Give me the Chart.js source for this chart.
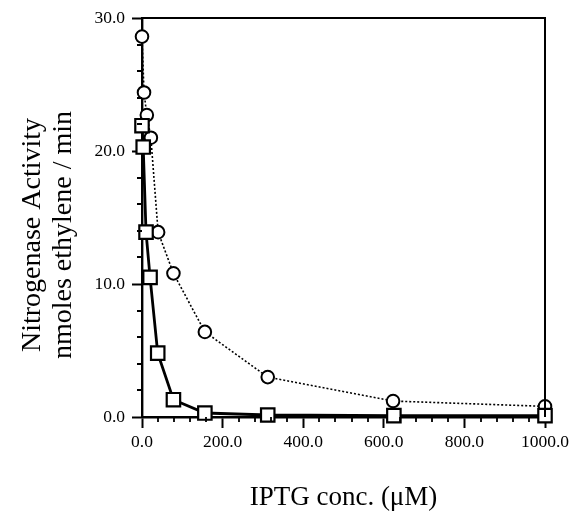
<!DOCTYPE html>
<html>
<head>
<meta charset="utf-8">
<script src="https://cdn.jsdelivr.net/npm/chart.js@4"></script>
<style>
html,body{margin:0;padding:0;background:#fff;}
#wrap{width:570px;height:511px;}
</style>
</head>
<body>
<div id="wrap"><canvas id="c" width="570" height="511"></canvas></div>
<script>
const circleX = [0, 5, 12, 22, 40, 78, 156, 312, 623, 1000];
const circleY = [28.6, 24.4, 22.7, 21.0, 13.9, 10.8, 6.4, 3.0, 1.2, 0.8];
const squareX = [0, 3, 10, 20, 39, 78, 156, 312, 625, 1000];
const squareY = [21.9, 20.3, 13.9, 10.5, 4.8, 1.3, 0.3, 0.15, 0.1, 0.1];
const xTitle = "IPTG conc. (\u03BCM)";
const yTitle = ["Nitrogenase Activity", "nmoles ethylene / min"];

const pts = (xs, ys) => xs.map((x, i) => ({x: x, y: ys[i]}));
// trailing no-break spaces shift the rotated title slightly downward, as in the reference
const pad = s => s + '\u00A0\u00A0\u00A0\u00A0\u00A0';

const frameAndMinor = {
  id: 'frameAndMinor',
  afterDraw(chart) {
    const ctx = chart.ctx, a = chart.chartArea;
    const xs = chart.scales.x, ys = chart.scales.y;
    ctx.save();
    ctx.strokeStyle = '#000';
    ctx.lineWidth = 2;
    ctx.beginPath();
    ctx.moveTo(a.left, a.top); ctx.lineTo(a.right, a.top); ctx.lineTo(a.right, a.bottom);
    ctx.stroke();
    ctx.lineWidth = 1.8;
    ctx.beginPath();
    for (let v = 0; v <= 30; v += 2) {
      if (v % 10 === 0) continue;
      const py = Math.round(ys.getPixelForValue(v));
      ctx.moveTo(a.left, py); ctx.lineTo(a.left - 5, py);
    }
    for (let v = 0; v <= 1000; v += 40) {
      if (v % 200 === 0) continue;
      const px = Math.round(xs.getPixelForValue(v));
      ctx.moveTo(px, a.bottom); ctx.lineTo(px, a.bottom + 5);
    }
    ctx.stroke();
    ctx.restore();
  }
};

new Chart(document.getElementById('c'), {
  type: 'line',
  data: {
    datasets: [
      {
        data: pts(squareX, squareY),
        borderColor: '#000', borderWidth: 2.8,
        pointStyle: 'rect', pointRadius: 9.5, pointBorderWidth: 2.2,
        pointBackgroundColor: '#fff', pointBorderColor: '#000',
        tension: 0, clip: false
      },
      {
        data: pts(circleX, circleY),
        borderColor: '#000', borderWidth: 1.6, borderDash: [2, 2],
        pointStyle: 'circle', pointRadius: 6.3, pointBorderWidth: 2,
        pointBackgroundColor: '#fff', pointBorderColor: '#000',
        tension: 0, clip: false
      }
    ]
  },
  options: {
    responsive: false,
    animation: false,
    layout: {padding: {top: 18, right: 25, bottom: 0, left: 0}},
    plugins: {legend: {display: false}, tooltip: {enabled: false}},
    scales: {
      x: {
        type: 'linear', min: 0, max: 1000,
        afterFit(s) { s.height = 94; s.paddingLeft = 0; s.paddingRight = 0; },
        grid: {display: true, drawOnChartArea: false, drawTicks: true, tickLength: 11, tickWidth: 2, tickColor: '#000'},
        border: {display: true, color: '#000', width: 2.4},
        ticks: {stepSize: 200, padding: 4, color: '#000', maxRotation: 0,
          font: {family: 'Liberation Serif', size: 17.5},
          callback: v => Number(v).toFixed(1)},
        title: {display: true, text: xTitle, color: '#000',
          font: {family: 'Liberation Serif', size: 27, lineHeight: 1.0}, padding: {top: 0, bottom: 0}}
      },
      y: {
        type: 'linear', min: 0, max: 30,
        afterFit(s) { s.width = 142; s.paddingTop = 0; s.paddingBottom = 0; },
        grid: {display: true, drawOnChartArea: false, drawTicks: true, tickLength: 10, tickWidth: 2, tickColor: '#000'},
        border: {display: true, color: '#000', width: 2.4},
        ticks: {stepSize: 10, padding: 7, color: '#000',
          font: {family: 'Liberation Serif', size: 17.5},
          callback: v => Number(v).toFixed(1)},
        title: {display: true, text: yTitle.map(pad), color: '#000',
          font: {family: 'Liberation Serif', size: 28, lineHeight: 1.08}, padding: {top: 18, bottom: 0}}
      }
    }
  },
  plugins: [frameAndMinor]
});
</script>
</body>
</html>
